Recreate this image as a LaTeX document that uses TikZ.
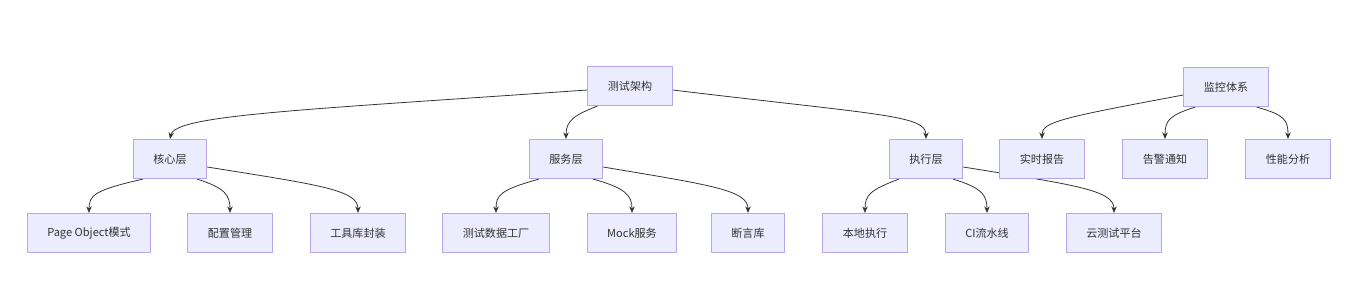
\documentclass[tikz,border=0pt]{standalone}
\usepackage{fontspec}
\setmainfont{Noto Sans CJK SC}
\usetikzlibrary{arrows.meta,backgrounds}
\definecolor{boxfill}{HTML}{ECECFF}
\definecolor{boxline}{HTML}{B9A6EA}
\definecolor{edgecol}{HTML}{333333}
\tikzset{box/.style={draw=boxline,fill=boxfill,line width=0.7pt,minimum height=0.78cm,inner xsep=0.4cm,
    text=edgecol,font=\fontsize{6.3}{7.5}\selectfont},
  arr/.style={-{Stealth[length=1.3mm,width=1.1mm]},edgecol,line width=0.45pt}}

\begin{document}
\begin{tikzpicture}[x=0.02cm,y=-0.02cm]
\useasboundingbox (0,0) rectangle (1372,302);
\node[box] (root) at (630,86) {测试架构};
\node[box] (mon) at (1226,87) {监控体系};
\node[box] (core) at (170,159) {核心层};
\node[box] (svc) at (566,159) {服务层};
\node[box] (exec) at (926,159) {执行层};
\node[box] (rep) at (1042,159) {实时报告};
\node[box] (alert) at (1165,159) {告警通知};
\node[box] (perf) at (1288,159) {性能分析};
\node[box] (po) at (89,233) {Page Object模式};
\node[box] (conf) at (230,233) {配置管理};
\node[box] (tool) at (358,233) {工具库封装};
\node[box] (data) at (496,233) {测试数据工厂};
\node[box] (mock) at (632,233) {Mock服务};
\node[box] (asrt) at (748,233) {断言库};
\node[box] (local) at (865,233) {本地执行};
\node[box] (ci) at (987,233) {CI流水线};
\node[box] (cloud) at (1114,233) {云测试平台};
\begin{scope}[on background layer]
\draw[arr] (root.west) ++(0,4) .. controls (300,110) and (175,115) .. (core.north);
\draw[arr] ([xshift=10*0.02cm]root.south west) .. controls (575,115) and (566,120) .. (svc.north);
\draw[arr] (root.east) ++(0,4) .. controls (880,115) and (926,115) .. (exec.north);
\draw[arr] (mon.west) ++(0,8) .. controls (1060,118) and (1042,122) .. (rep.north);
\draw[arr] ([xshift=12*0.02cm]mon.south west) .. controls (1170,115) and (1165,120) .. (alert.north);
\draw[arr] ([xshift=-12*0.02cm]mon.south east) .. controls (1285,115) and (1288,120) .. (perf.north);
\draw[arr] ([xshift=10*0.02cm]core.south west) .. controls (95,190) and (89,195) .. (po.north);
\draw[arr] ([xshift=-10*0.02cm]core.south east) .. controls (225,188) and (230,195) .. (conf.north);
\draw[arr] (core.east) ++(0,8) .. controls (320,185) and (358,190) .. (tool.north);
\draw[arr] ([xshift=10*0.02cm]svc.south west) .. controls (500,190) and (496,195) .. (data.north);
\draw[arr] ([xshift=-10*0.02cm]svc.south east) .. controls (625,188) and (632,195) .. (mock.north);
\draw[arr] (svc.east) ++(0,8) .. controls (710,185) and (748,190) .. (asrt.north);
\draw[arr] ([xshift=10*0.02cm]exec.south west) .. controls (870,190) and (865,195) .. (local.north);
\draw[arr] ([xshift=-10*0.02cm]exec.south east) .. controls (982,188) and (987,195) .. (ci.north);
\draw[arr] (exec.east) ++(0,8) .. controls (1075,185) and (1114,190) .. (cloud.north);
\end{scope}
\end{tikzpicture}
\end{document}
